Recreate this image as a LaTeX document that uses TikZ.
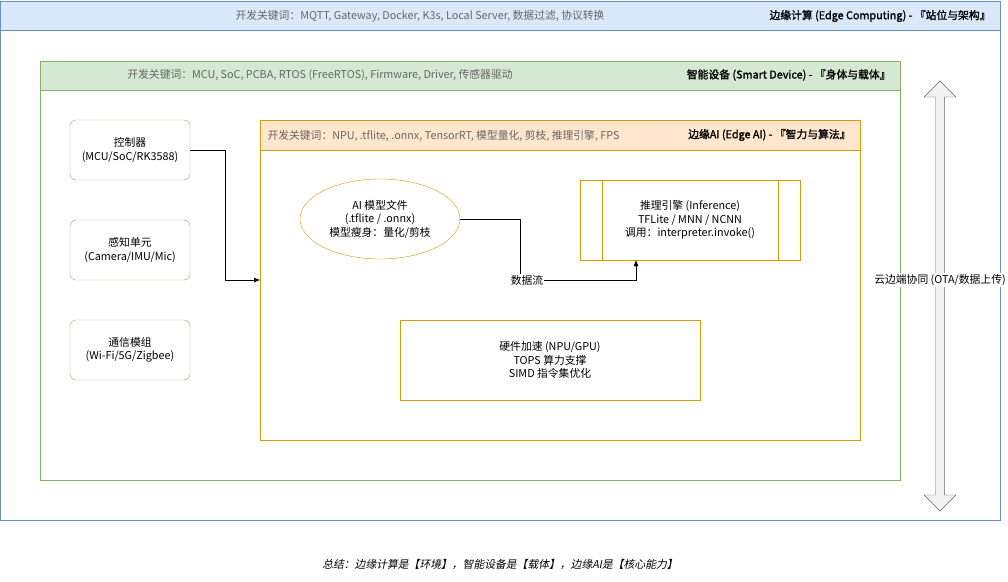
\documentclass[tikz,border=0pt]{standalone}
\usepackage{fontspec}
\setmainfont{Noto Sans CJK SC}[AutoFakeSlant=0.2,AutoFakeBold=1.5]
\usetikzlibrary{arrows.meta,shapes.geometric,shapes.arrows}
\definecolor{bblue}{HTML}{6C8EBF}\definecolor{fblue}{HTML}{DAE8FC}
\definecolor{bgreen}{HTML}{82B366}\definecolor{fgreen}{HTML}{D5E8D4}
\definecolor{bor}{HTML}{D79B00}\definecolor{for}{HTML}{FFE6CC}
\definecolor{kw}{HTML}{666666}
\begin{document}
\begin{tikzpicture}[x=1pt,y=-1pt,font=\fontsize{10.8}{13.5}\selectfont,
  rbox/.style={draw=bgreen,rounded corners=6pt,align=center},
  conn/.style={-{Latex[length=6pt,width=5pt]}}]
\useasboundingbox (0,0) rectangle (1008,581);
% outer
\draw[bblue,fill=white] (0.5,1) rectangle (1000,520);
\draw[bblue,fill=fblue] (0.5,1) rectangle (1000,30);
\node[kw] at (420,16) {开发关键词：MQTT, Gateway, Docker, K3s, Local Server, 数据过滤, 协议转换};
\node[anchor=east] at (994,16) {\bfseries 边缘计算 (Edge Computing) - 『站位与架构』};
% green
\draw[bgreen] (40,61) rectangle (900,480);
\draw[bgreen,fill=fgreen] (40,61) rectangle (900,90);
\node[kw] at (320,75) {开发关键词：MCU, SoC, PCBA, RTOS (FreeRTOS), Firmware, Driver, 传感器驱动};
\node[anchor=east] at (894,75) {\bfseries 智能设备 (Smart Device) - 『身体与载体』};
% orange
\draw[bor] (260,120) rectangle (860,440);
\draw[bor,fill=for] (260,120) rectangle (860,150);
\node[kw,anchor=west] at (264,136) {开发关键词：NPU, .tflite, .onnx, TensorRT, 模型量化, 剪枝, 推理引擎, FPS};
\node[anchor=east] at (854,135) {\bfseries 边缘AI (Edge AI) - 『智力与算法』};
% left boxes
\node[rbox,minimum width=120pt,minimum height=60pt] (ctl) at (130,150) {控制器\\(MCU/SoC/RK3588)};
\node[rbox,minimum width=120pt,minimum height=60pt] (sen) at (130,250) {感知单元\\(Camera/IMU/Mic)};
\node[rbox,minimum width=120pt,minimum height=60pt] (com) at (130,350) {通信模组\\(Wi-Fi/5G/Zigbee)};
\coordinate (ain) at (260,280);
\draw[conn] (ctl.east) -- (225,150) -- (225,280) -- (ain);
% ellipse
\node[ellipse,draw=bor,minimum width=160pt,minimum height=80pt,align=center,inner sep=0pt] (mod) at (380,219) {AI 模型文件\\(.tflite / .onnx)\\模型瘦身：量化/剪枝};
\node[draw=bor,minimum width=220pt,minimum height=80pt,align=center] (inf) at (690,220) {推理引擎 (Inference)\\TFLite / MNN / NCNN\\调用：interpreter.invoke()};
\draw[bor] (602,180) -- (602,260) (778,180) -- (778,260);
\node[draw=bor,minimum width=300pt,minimum height=80pt,align=center] (hw) at (550,360) {硬件加速 (NPU/GPU)\\TOPS 算力支撑\\SIMD 指令集优化};
\coordinate (bend) at (520,280);
\draw[conn] (mod.east) -- (520,219) -- (bend) -- (636,280) -- (inf.south-|636,0);
\node[fill=white,inner sep=1pt] (df) at (527,280) {数据流};
% big arrow
\node[double arrow,draw=black!60,fill=black!5,shape border rotate=90,minimum height=430pt,minimum width=32pt,double arrow head extend=6pt,inner sep=2pt] (ba) at (940,296) {};
\node[fill=white,inner sep=1pt] (bl) at (940,280) {云边端协同 (OTA/数据上传)};
\node (sum) at (500,564) {\itshape 总结：边缘计算是【环境】，智能设备是【载体】，边缘AI是【核心能力】};
\end{tikzpicture}
\end{document}
